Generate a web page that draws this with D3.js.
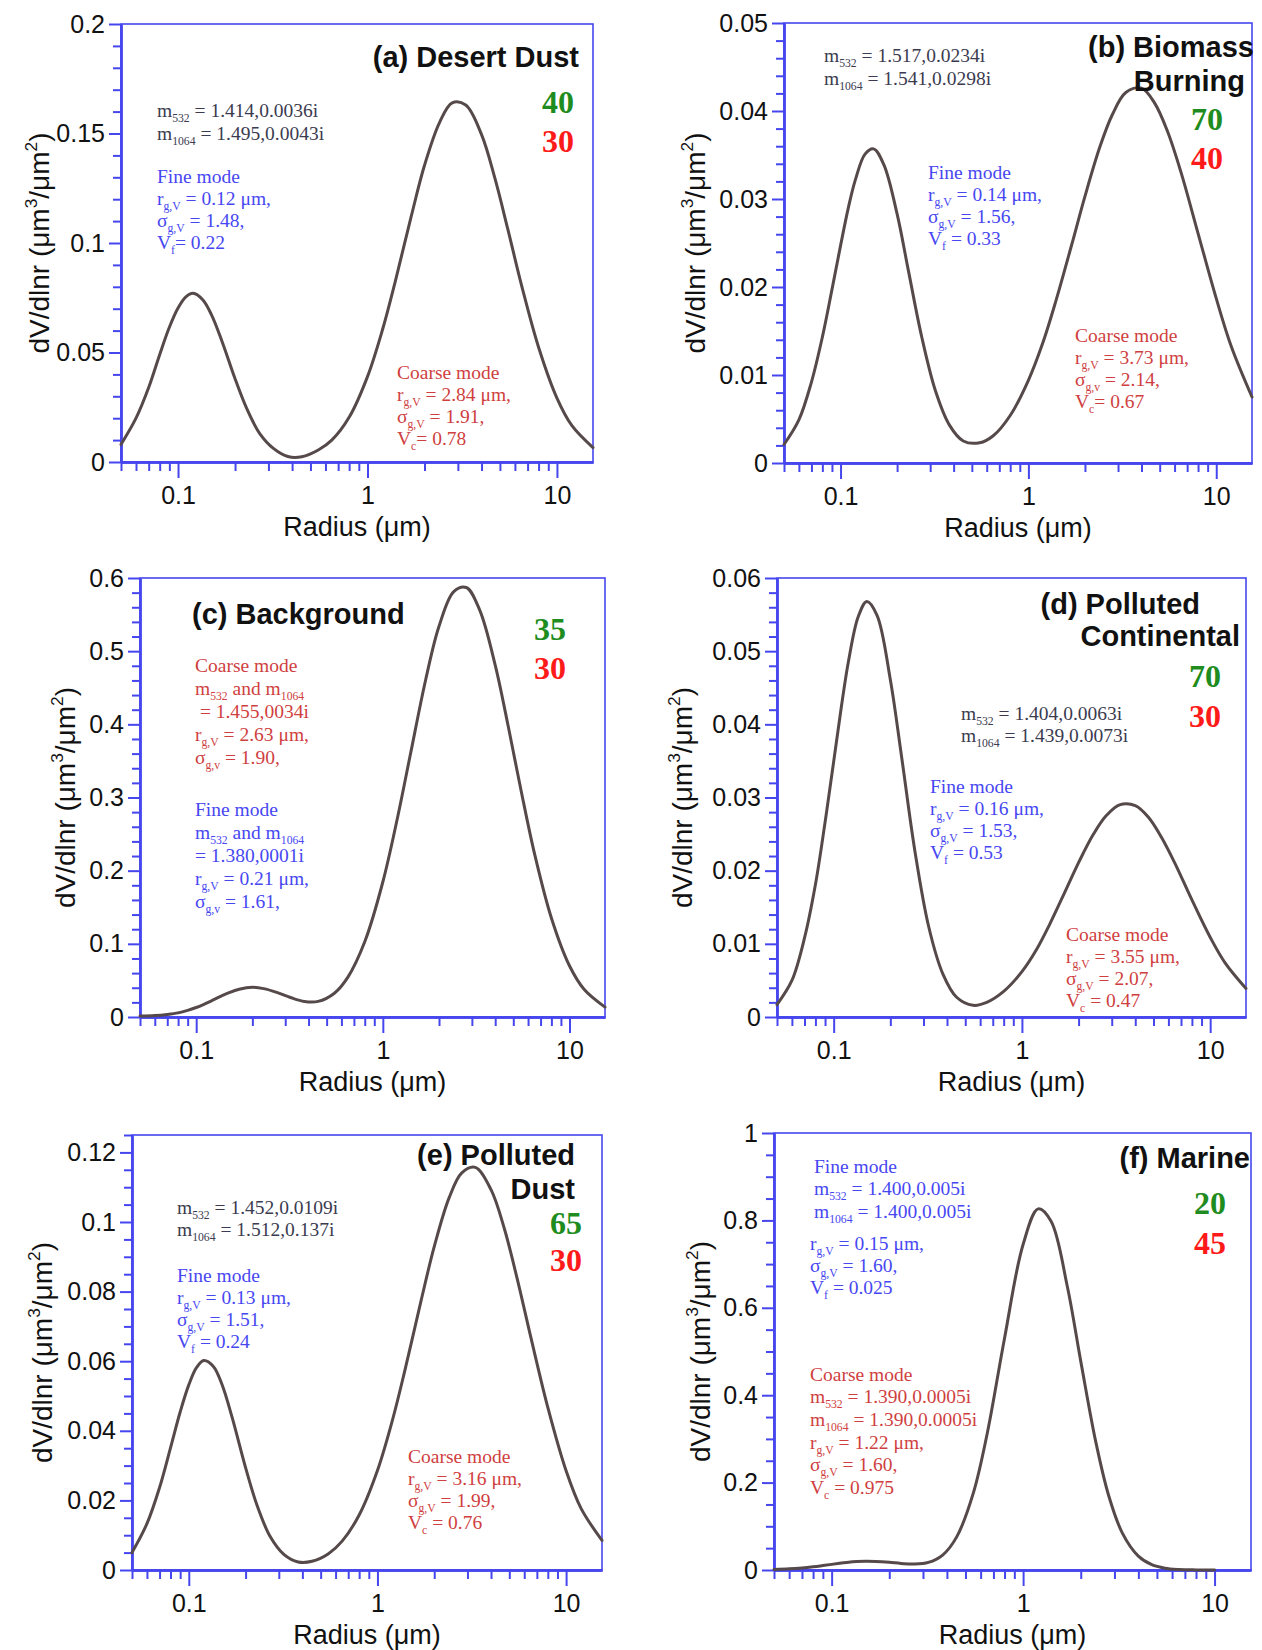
<!DOCTYPE html>
<html>
<head>
<meta charset="utf-8">
<script src="https://d3js.org/d3.v7.min.js"></script>
<style>
  body { margin: 0; background: #fff; }
  svg { display: block; background: #fff; }
</style>
</head>
<body>
<svg id="svg" width="1262" height="1650"></svg>
<script>
// radius grid (µm) shared by all six size distributions
var radius = [0.05, 0.06, 0.07, 0.08, 0.09, 0.1, 0.11, 0.12, 0.135, 0.15, 0.17, 0.2, 0.23, 0.27, 0.32, 0.38,
  0.45, 0.55, 0.65, 0.8, 1, 1.2, 1.4, 1.7, 2, 2.4, 2.8, 3.3, 4, 4.7, 5.5, 6.5, 8, 10, 12, 15.5];

// dV/dlnr
var desertDust = [0.008, 0.020, 0.034, 0.049, 0.0615, 0.0703, 0.0754, 0.077, 0.0741, 0.0673, 0.0555, 0.038,
  0.0246, 0.013, 0.0061, 0.0025, 0.0024, 0.0055, 0.0101, 0.0204, 0.039, 0.0604, 0.0823, 0.112, 0.1355, 0.155,
  0.164, 0.163, 0.1495, 0.1297, 0.1064, 0.0808, 0.0524, 0.0292, 0.0166, 0.0066];
var biomassBurning = [0.0021, 0.0049, 0.0092, 0.0143, 0.0197, 0.0247, 0.0290, 0.0322, 0.0351, 0.0357, 0.0339,
  0.0283, 0.0218, 0.0144, 0.0082, 0.0043, 0.0025, 0.0023, 0.0031, 0.0054, 0.0094, 0.0138, 0.0184, 0.0248,
  0.0303, 0.0359, 0.0396, 0.0421, 0.0426, 0.0409, 0.0377, 0.0330, 0.0261, 0.0187, 0.0133, 0.0075];
var background = [0.0013, 0.002, 0.0035, 0.0056, 0.009, 0.013, 0.0174, 0.0218, 0.0281, 0.0333, 0.038, 0.0407,
  0.0388, 0.0337, 0.0266, 0.0212, 0.0213, 0.0325, 0.0545, 0.1028, 0.1845, 0.273, 0.357, 0.462, 0.534, 0.5815,
  0.587, 0.5565, 0.481, 0.397, 0.31, 0.223, 0.1353, 0.07, 0.0375, 0.0135];
var pollutedContinental = [0.0017, 0.0050, 0.0108, 0.0181, 0.0266, 0.0349, 0.0425, 0.0487, 0.0547, 0.0568,
  0.0549, 0.0461, 0.0354, 0.0227, 0.0123, 0.0059, 0.0027, 0.0016, 0.0020, 0.0035, 0.0062, 0.0093, 0.0126,
  0.0172, 0.0211, 0.0250, 0.0275, 0.0290, 0.0289, 0.0273, 0.0246, 0.0210, 0.0160, 0.0109, 0.0074, 0.0039];
var pollutedDust = [0.005, 0.0133, 0.0237, 0.0351, 0.0454, 0.0532, 0.0582, 0.0602, 0.0585, 0.0533, 0.0437,
  0.0294, 0.0186, 0.0096, 0.0044, 0.0023, 0.0025, 0.0047, 0.0083, 0.0158, 0.0286, 0.043, 0.0575, 0.0772,
  0.0929, 0.107, 0.1141, 0.1157, 0.1093, 0.0982, 0.0838, 0.0669, 0.0467, 0.0285, 0.0177, 0.0085];
var marine = [0.0011, 0.0026, 0.0048, 0.0074, 0.0102, 0.0129, 0.0153, 0.0172, 0.0192, 0.02, 0.0196, 0.0176,
  0.0151, 0.0135, 0.0173, 0.0342, 0.0758, 0.1765, 0.313, 0.5305, 0.745, 0.8264, 0.798, 0.65, 0.478, 0.292,
  0.17, 0.0844, 0.0317, 0.0121, 0.0042, 0.0012, 0.0002, 0, null, null];

// tick labels
var xTicks = [0.1, 1, 10];
var yTicksA = [0, 0.05, 0.1, 0.15, 0.2];
var yTicksB = [0, 0.01, 0.02, 0.03, 0.04, 0.05];
var yTicksC = [0, 0.1, 0.2, 0.3, 0.4, 0.5, 0.6];
var yTicksD = [0, 0.01, 0.02, 0.03, 0.04, 0.05, 0.06];
var yTicksE = [0, 0.02, 0.04, 0.06, 0.08, 0.1, 0.12];
var yTicksF = [0, 0.2, 0.4, 0.6, 0.8, 1];

var xDomain = [0.05, 15.5];

var AXIS = "#4646ee", CURVE = "#56494a";
var GRAY = "#3b3b4f", BLUE = "#4747f2", BROWNRED = "#cf3f3f", GREEN = "#1e8c1e", RED = "#ff1a1a";
var SANS = "'Liberation Sans', Arial, Helvetica, sans-serif";
var SERIF = "'Liberation Serif', 'Times New Roman', serif";

function fmt(d) {
  return d === 0 ? "0" : String(+d.toFixed(4));
}

// text with _{sub} and ^{sup} pieces, y is the vertical centre
function richText(parent, x, y, str, size, color, opt) {
  opt = opt || {};
  var t = parent.append("text")
    .attr("x", x)
    .attr("y", y + 0.35 * size)
    .attr("font-size", size)
    .attr("font-family", opt.family || SERIF)
    .attr("font-weight", opt.weight || "normal")
    .attr("text-anchor", opt.anchor || "start")
    .attr("fill", color);
  if (opt.rotate) t.attr("transform", "rotate(-90," + x + "," + y + ")");
  var parts = str.split(/(_\{[^}]*\}|\^\{[^}]*\})/).filter(function (p) { return p !== ""; });
  var shift = 0;
  parts.forEach(function (p) {
    var want = 0, fs = size, txt = p;
    if (p[0] === "_" && p[1] === "{") { want = 0.26 * size; fs = 0.6 * size; txt = p.slice(2, -1); }
    else if (p[0] === "^" && p[1] === "{") { want = -0.42 * size; fs = 0.62 * size; txt = p.slice(2, -1); }
    t.append("tspan").attr("dy", want - shift).attr("font-size", fs).text(txt);
    shift = want;
  });
  return t;
}

function Chart(p) {
  var svg = d3.select("#svg");
  var left = p.box[0], top = p.box[1], right = p.box[2], bottom = p.box[3];

  var xScale = d3.scaleLog().domain(xDomain).range([left, right]);
  var yScale = d3.scaleLinear().domain([0, p.yMax]).range([bottom, top]);

  var g = svg.append("g").attr("class", "panel-" + p.id);

  g.append("rect")
    .attr("x", left).attr("y", top)
    .attr("width", right - left).attr("height", bottom - top)
    .attr("fill", "none").attr("stroke", AXIS).attr("stroke-width", 1.6);

  var xMinor = xScale.ticks().filter(function (t) {
    var l = Math.log10(t);
    return Math.abs(l - Math.round(l)) > 1e-6;
  });
  var yMinor = d3.range(0, p.yMax + 1e-9, p.yMinor).filter(function (v) {
    return p.yTicks.every(function (t) { return Math.abs(t - v) > 1e-9; });
  });

  g.append("g").attr("transform", "translate(0," + bottom + ")")
    .call(d3.axisBottom(xScale).tickValues(xMinor).tickSize(9).tickSizeOuter(0).tickFormat(""));
  g.append("g").attr("class", "xmaj").attr("transform", "translate(0," + bottom + ")")
    .call(d3.axisBottom(xScale).tickValues(xTicks).tickSize(16).tickPadding(8).tickSizeOuter(0).tickFormat(fmt));
  g.append("g").attr("transform", "translate(" + left + ",0)")
    .call(d3.axisLeft(yScale).tickValues(yMinor).tickSize(8).tickSizeOuter(0).tickFormat(""));
  g.append("g").attr("class", "ymaj").attr("transform", "translate(" + left + ",0)")
    .call(d3.axisLeft(yScale).tickValues(p.yTicks).tickSize(12).tickPadding(4).tickSizeOuter(0).tickFormat(fmt));

  g.selectAll(".domain").attr("stroke", AXIS).attr("stroke-width", 2.4);
  g.selectAll(".tick line").attr("stroke", AXIS).attr("stroke-width", 2);
  g.selectAll(".tick text")
    .attr("font-family", SANS).attr("font-size", 25).attr("fill", "#111");

  // curve
  var line = d3.line()
    .defined(function (d) { return d[1] != null; })
    .x(function (d) { return xScale(d[0]); })
    .y(function (d) { return yScale(d[1]); })
    .curve(d3.curveCatmullRom.alpha(0.5));

  g.append("path")
    .datum(radius.map(function (r, i) { return [r, p.values[i]]; }))
    .attr("d", line)
    .attr("fill", "none")
    .attr("stroke", CURVE)
    .attr("stroke-width", 3)
    .attr("stroke-linejoin", "round")
    .attr("stroke-linecap", "round");

  // axis titles
  richText(g, (left + right) / 2, bottom + 65, "Radius (μm)", 27, "#111", { family: SANS, anchor: "middle" });
  richText(g, left - p.yTitle, (top + bottom) / 2, "dV/dlnr (μm^{3}/μm^{2})", 28, "#111",
    { family: SANS, anchor: "middle", rotate: true });

  // panel titles
  p.title.forEach(function (t) {
    richText(g, t[0], t[1], t[2], 29, "#111", { family: SANS, weight: "bold", anchor: t[3] || "end" });
  });

  // percentages
  richText(g, p.nums[0], p.nums[1], p.nums[2], 32, GREEN, { weight: "bold", anchor: "end" });
  richText(g, p.nums[0], p.nums[3], p.nums[4], 32, RED, { weight: "bold", anchor: "end" });

  // text blocks
  p.blocks.forEach(function (b) {
    b.lines.forEach(function (s, i) {
      richText(g, b.x, b.y + i * (b.lh || 22), s, 19.5, b.color);
    });
  });
}

var panels = [
  {
    id: "a", box: [121, 24, 593, 462], yMax: 0.2, yTicks: yTicksA, yMinor: 0.01, values: desertDust, yTitle: 82,
    title: [[579, 57, "(a) Desert Dust"]],
    nums: [574, 102, "40", 141, "30"],
    blocks: [
      { x: 157, y: 110, lh: 23, color: GRAY, lines: ["m_{532} = 1.414,0.0036i", "m_{1064} = 1.495,0.0043i"] },
      { x: 157, y: 176, color: BLUE, lines: ["Fine mode", "r_{g,V} = 0.12 μm,", "σ_{g,V} = 1.48,", "V_{f}= 0.22"] },
      { x: 397, y: 372, color: BROWNRED, lines: ["Coarse mode", "r_{g,V} = 2.84 μm,", "σ_{g,V} = 1.91,", "V_{c}= 0.78"] }
    ]
  },
  {
    id: "b", box: [784, 23, 1252, 463], yMax: 0.05, yTicks: yTicksB, yMinor: 0.002, values: biomassBurning, yTitle: 89,
    title: [[1254, 47, "(b) Biomass"], [1245, 81, "Burning"]],
    nums: [1223, 119, "70", 158, "40"],
    blocks: [
      { x: 824, y: 55, lh: 23, color: GRAY, lines: ["m_{532} = 1.517,0.0234i", "m_{1064} = 1.541,0.0298i"] },
      { x: 928, y: 172, color: BLUE, lines: ["Fine mode", "r_{g,V} = 0.14 μm,", "σ_{g,V} = 1.56,", "V_{f} = 0.33"] },
      { x: 1075, y: 335, color: BROWNRED, lines: ["Coarse mode", "r_{g,V} = 3.73 μm,", "σ_{g,v} = 2.14,", "V_{c}= 0.67"] }
    ]
  },
  {
    id: "c", box: [140, 578, 605, 1017], yMax: 0.6, yTicks: yTicksC, yMinor: 0.02, values: background, yTitle: 75,
    title: [[192, 614, "(c) Background", "start"]],
    nums: [566, 629, "35", 668, "30"],
    blocks: [
      { x: 195, y: 665, lh: 23, color: BROWNRED, lines: ["Coarse mode", "m_{532} and m_{1064}", "\u00a0= 1.455,0034i", "r_{g,V} = 2.63 μm,", "σ_{g,v} = 1.90,"] },
      { x: 195, y: 809, lh: 23, color: BLUE, lines: ["Fine mode", "m_{532} and m_{1064}", "= 1.380,0001i", "r_{g,V} = 0.21 μm,", "σ_{g,v} = 1.61,"] }
    ]
  },
  {
    id: "d", box: [777, 578, 1246, 1017], yMax: 0.06, yTicks: yTicksD, yMinor: 0.002, values: pollutedContinental, yTitle: 95,
    title: [[1200, 604, "(d) Polluted"], [1240, 636, "Continental"]],
    nums: [1221, 676, "70", 716, "30"],
    blocks: [
      { x: 961, y: 713, lh: 22, color: GRAY, lines: ["m_{532} = 1.404,0.0063i", "m_{1064} = 1.439,0.0073i"] },
      { x: 930, y: 786, color: BLUE, lines: ["Fine mode", "r_{g,V} = 0.16 μm,", "σ_{g,V} = 1.53,", "V_{f} = 0.53"] },
      { x: 1066, y: 934, color: BROWNRED, lines: ["Coarse mode", "r_{g,V} = 3.55 μm,", "σ_{g,V} = 2.07,", "V_{c} = 0.47"] }
    ]
  },
  {
    id: "e", box: [132, 1135, 602, 1570], yMax: 0.125, yTicks: yTicksE, yMinor: 0.005, values: pollutedDust, yTitle: 90,
    title: [[575, 1155, "(e) Polluted"], [575, 1189, "Dust"]],
    nums: [582, 1223, "65", 1260, "30"],
    blocks: [
      { x: 177, y: 1207, lh: 22, color: GRAY, lines: ["m_{532} = 1.452,0.0109i", "m_{1064} = 1.512,0.137i"] },
      { x: 177, y: 1275, color: BLUE, lines: ["Fine mode", "r_{g,V} = 0.13 μm,", "σ_{g,V} = 1.51,", "V_{f} = 0.24"] },
      { x: 408, y: 1456, color: BROWNRED, lines: ["Coarse mode", "r_{g,V} = 3.16 μm,", "σ_{g,V} = 1.99,", "V_{c} = 0.76"] }
    ]
  },
  {
    id: "f", box: [774, 1133, 1251, 1570], yMax: 1, yTicks: yTicksF, yMinor: 0.05, values: marine, yTitle: 74,
    title: [[1250, 1158, "(f) Marine"]],
    nums: [1226, 1203, "20", 1243, "45"],
    blocks: [
      { x: 814, y: 1166, lh: 22.5, color: BLUE, lines: ["Fine mode", "m_{532} = 1.400,0.005i", "m_{1064} = 1.400,0.005i"] },
      { x: 810, y: 1243, color: BLUE, lines: ["r_{g,V} = 0.15 μm,", "σ_{g,V} = 1.60,", "V_{f} = 0.025"] },
      { x: 810, y: 1374, lh: 22.6, color: BROWNRED, lines: ["Coarse mode", "m_{532} = 1.390,0.0005i", "m_{1064} = 1.390,0.0005i", "r_{g,V} = 1.22 μm,", "σ_{g,V} = 1.60,", "V_{c} = 0.975"] }
    ]
  }
];

panels.forEach(Chart);
</script>
</body>
</html>
